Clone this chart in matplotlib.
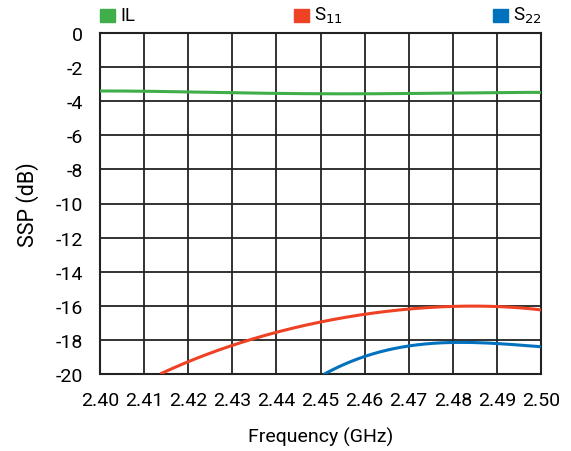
import matplotlib
matplotlib.use("Agg")
import matplotlib.pyplot as plt
import numpy as np

plt.rcParams['font.family'] = ["Roboto", "DejaVu Sans"]

freq_il = [2.40, 2.41, 2.42, 2.43, 2.44, 2.45, 2.46, 2.47, 2.48, 2.49, 2.50]
il = [-3.40, -3.42, -3.45, -3.50, -3.55, -3.57, -3.56, -3.54, -3.52, -3.50, -3.48]

freq_s11 = [2.414, 2.42, 2.43, 2.44, 2.45, 2.46, 2.47, 2.48, 2.49, 2.50]
s11 = [-20.0, -19.2, -18.34, -17.6, -16.95, -16.46, -16.19, -16.04, -16.06, -16.23]

freq_s22 = [2.451, 2.455, 2.46, 2.47, 2.48, 2.49, 2.50]
s22 = [-20.0, -19.45, -18.99, -18.36, -18.14, -18.22, -18.40]

xticks = [2.40, 2.41, 2.42, 2.43, 2.44, 2.45, 2.46, 2.47, 2.48, 2.49, 2.50]
yticks = [0, -2, -4, -6, -8, -10, -12, -14, -16, -18, -20]

c_il = "#3fae49"
c_s11 = "#ef4123"
c_s22 = "#0071bc"

fig = plt.figure(figsize=(5.71, 4.52), dpi=100)
ax = fig.add_axes([100/571, 1-375/452, 441/571, 341/452])

def smooth(x, y):
    x = np.asarray(x); y = np.asarray(y)
    xs = np.linspace(x[0], x[-1], 200)
    deg = min(4, len(x)-1)
    c = np.polyfit(x, y, deg)
    return xs, np.polyval(c, xs)

ax.plot(*smooth(freq_il, il), color=c_il, lw=2.2, zorder=3)
ax.plot(*smooth(freq_s11, s11), color=c_s11, lw=2.2, zorder=3)
ax.plot(*smooth(freq_s22, s22), color=c_s22, lw=2.2, zorder=3)

ax.set_xlim(2.40, 2.50)
ax.set_ylim(-20, 0)
ax.set_xticks(xticks)
ax.set_xticklabels([f"{v:.2f}" for v in xticks])
ax.set_yticks(yticks)
ax.set_yticklabels([str(v) for v in yticks])
ax.grid(True, color="#222222", lw=1.3)
ax.set_axisbelow(True)
for s in ax.spines.values():
    s.set_color("#222222")
    s.set_linewidth(1.5)
ax.tick_params(length=0, labelsize=14, colors="black")
ax.tick_params(axis='y', pad=12)
ax.tick_params(axis='x', pad=12)
ax.set_xlabel("Frequency (GHz)", fontsize=14, labelpad=13)
ax.set_ylabel("SSP (dB)", fontsize=15.5, labelpad=12)

# legend entries at top
legend = [("IL", c_il, 100), ("S$_{11}$", c_s11, 294), ("S$_{22}$", c_s22, 493)]
for lab, col, px in legend:
    fig.patches.append(plt.Rectangle((px/571, 1-23/452), 15/571, 13/452, color=col, transform=fig.transFigure))
    fig.text((px+20)/571, 1-16/452, lab, fontsize=13.5, va="center", ha="left")

fig.savefig("out.png", dpi=100)
